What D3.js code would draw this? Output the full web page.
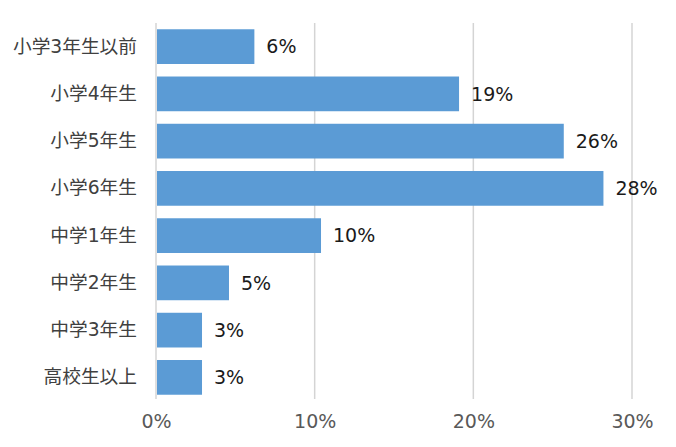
<!DOCTYPE html>
<html><head><meta charset="utf-8">
<script src="https://cdn.jsdelivr.net/npm/d3@7"></script>
<style>
html,body{margin:0;padding:0;background:#fff;}
svg{display:block;}
text{font-family:"DejaVu Sans","Noto Sans CJK JP",sans-serif;}
</style></head>
<body>
<svg id="chart" width="676" height="447"></svg>
<script>
const categories = ["小学3年生以前","小学4年生","小学5年生","小学6年生","中学1年生","中学2年生","中学3年生","高校生以上"];
const values = [6.2, 19.1, 25.7, 28.2, 10.4, 4.6, 2.9, 2.9];
const dataLabels = ["6%","19%","26%","28%","10%","5%","3%","3%"];
const xTicks = [0, 10, 20, 30];
const xTickLabels = ["0%","10%","20%","30%"];

const FONT = '"DejaVu Sans","Noto Sans CJK JP",sans-serif';
const svg = d3.select("#chart");
const mLeft = 156, mRight = 632, mTop = 23, mBottom = 399;
const x = d3.scaleLinear().domain([0, 30]).range([mLeft, mRight]);
const y = d3.scaleBand().domain(categories).range([mTop, mBottom + 2]).paddingInner(0.265).paddingOuter(0.1325);

// gridlines
svg.append("g").selectAll("line").data(xTicks).join("line")
  .attr("x1", d => x(d)).attr("x2", d => x(d))
  .attr("y1", mTop).attr("y2", mBottom)
  .attr("stroke", "#d4d4d4").attr("stroke-width", 1.5);

// bars
svg.append("g").selectAll("rect").data(values).join("rect")
  .attr("x", x(0) + 1)
  .attr("y", (d, i) => y(categories[i]))
  .attr("width", d => x(d) - x(0) - 1)
  .attr("height", y.bandwidth())
  .attr("fill", "#5B9BD5");

// data labels
svg.append("g").selectAll("text").data(values).join("text")
  .attr("x", d => x(d) + 12)
  .attr("y", (d, i) => y(categories[i]) + y.bandwidth() / 2)
  .attr("dy", "0.35em")
  .attr("font-size", 19)
  .attr("fill", "#1a1a1a")
  .style("font-family", FONT)
  .text((d, i) => dataLabels[i]);

// y axis labels
const yAxis = d3.axisLeft(y).tickSize(0).tickPadding(19);
const gy = svg.append("g").attr("transform", `translate(${mLeft},0)`).call(yAxis);
gy.select(".domain").remove();
gy.selectAll("text").attr("font-size", 18.7).attr("fill", "#404040")
  .style("font-family", FONT);

// x axis
const xAxis = d3.axisBottom(x).tickValues(xTicks).tickFormat((d, i) => xTickLabels[i]).tickSize(0).tickPadding(16);
const gx = svg.append("g").attr("transform", `translate(0,${mBottom})`).call(xAxis);
gx.select(".domain").remove();
gx.selectAll("text").attr("font-size", 19).attr("fill", "#595959")
  .style("font-family", FONT);
</script>
</body></html>
